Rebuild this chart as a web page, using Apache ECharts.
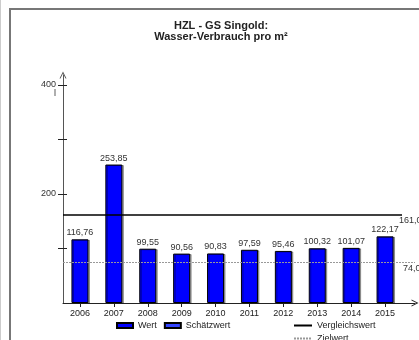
<!DOCTYPE html>
<html><head><meta charset="utf-8">
<script src="https://cdn.jsdelivr.net/npm/echarts@6/dist/echarts.min.js"></script>
<style>html,body{margin:0;padding:0;background:#fff}#c{width:419px;height:340px}</style>
</head><body><div id="c"></div>
<script>
var years = ['2006','2007','2008','2009','2010','2011','2012','2013','2014','2015'];
var wert = [116.76, 253.85, 99.55, 90.56, 90.83, 97.59, 95.46, 100.32, 101.07, 122.17];
var schaetzwert = [];
var vergleichswert = 161.0;
var zielwert = 74.0;
var yTicks = [100, 200, 300, 400];
var yLabels = [200, 400];
var yUnit = 'l';

var FONT = 'Liberation Sans, Arial, sans-serif';
function fmt(v){ return v.toFixed(2).replace('.', ','); }
var chev = 'path://M0,10L5,0L10,10L8.6,10L5,2.8L1.4,10Z';

var chart = echarts.init(document.getElementById('c'), null, {renderer:'canvas'});
var legendText = {fontFamily:FONT, fontSize:9, color:'#222'};
chart.setOption({
  animation: false,
  backgroundColor: '#fff',
  title: {
    text: 'HZL - GS Singold:\nWasser-Verbrauch pro m²',
    left: 216, top: 15, textAlign: 'center',
    textStyle: {fontFamily: FONT, fontSize: 11, fontWeight: 'bold', color: '#222', lineHeight: 11}
  },
  graphic: [
    {type:'line', shape:{x1:0.5,y1:0,x2:0.5,y2:340}, style:{stroke:'#ccc', lineWidth:1}},
    {type:'line', shape:{x1:10,y1:8,x2:10,y2:340}, style:{stroke:'#777', lineWidth:2}},
    {type:'line', shape:{x1:9,y1:9,x2:419,y2:9}, style:{stroke:'#777', lineWidth:2}},
    {type:'text', x:56, y:94, style:{text:yUnit, font:'9px Liberation Sans, Arial, sans-serif', fill:'#333', textAlign:'right', textVerticalAlign:'middle'}}
  ],
  legend: [
    {data:[{name:'Wert', icon:'rect'},{name:'Schätzwert', icon:'rect'}], left:116, top:321, padding:0,
     itemWidth:16, itemHeight:5, itemGap:7, textStyle:legendText},
    {data:['Vergleichswert'], left:293, top:321, padding:0, itemWidth:18, itemHeight:8,
     itemStyle:{opacity:0}, textStyle:legendText},
    {data:['Zielwert'], left:293, top:334, padding:0, itemWidth:18, itemHeight:8,
     itemStyle:{opacity:0}, textStyle:legendText}
  ],
  grid: [
    {left:63, right:17, top:75, bottom:37},
    {left:63, right:4, top:75, bottom:37}
  ],
  xAxis: [
    {type:'category', gridIndex:0, data: years,
     axisLine:{show:false},
     axisTick:{show:true, alignWithLabel:true, length:4, lineStyle:{color:'#222'}},
     axisLabel:{fontFamily:FONT, fontSize:9, color:'#222', margin:6}},
    {type:'value', gridIndex:1, min:0, max:1,
     axisLine:{show:true, symbol:['none', chev], symbolSize:[7,8], lineStyle:{color:'#222', width:1}},
     axisTick:{show:false}, axisLabel:{show:false}, splitLine:{show:false}}
  ],
  yAxis: [
    {type:'value', gridIndex:0, min:0, max:418,
     axisLine:{show:true, symbol:['none', chev], symbolSize:[7,8], lineStyle:{color:'#555', width:1}},
     axisTick:{show:true, length:5, customValues: yTicks, lineStyle:{color:'#222'}},
     axisLabel:{fontFamily:FONT, fontSize:9, color:'#333', margin:7, customValues: yLabels},
     splitLine:{show:false}},
    {type:'value', gridIndex:1, min:0, max:418,
     axisLine:{show:false},
     axisTick:{show:true, inside:true, length:4, customValues: yTicks, lineStyle:{color:'#222'}},
     axisLabel:{show:false}, splitLine:{show:false}}
  ],
  series: [
    {name:'Wert', type:'bar', xAxisIndex:0, yAxisIndex:0, data: wert, barWidth:17, barGap:'-100%',
     itemStyle:{color:'#0000ff', borderColor:'#000', borderWidth:1,
       shadowColor:'rgba(0,0,0,0.35)', shadowOffsetX:1.5, shadowOffsetY:0.5, shadowBlur:0},
     label:{show:true, position:'top', distance:2, formatter:function(p){return fmt(p.value);},
       fontFamily:FONT, fontSize:9, color:'#333'}},
    {name:'Schätzwert', type:'bar', xAxisIndex:0, yAxisIndex:0, data: schaetzwert, barWidth:17,
     itemStyle:{borderColor:'#000', borderWidth:1,
       color:{type:'linear', x:0, y:0, x2:0, y2:1, colorStops:[
         {offset:0, color:'#fff'},{offset:0.34, color:'#fff'},{offset:0.35, color:'#3344ff'},
         {offset:0.65, color:'#3344ff'},{offset:0.66, color:'#fff'},{offset:1, color:'#fff'}]}}},
    {name:'Vergleichswert', type:'line', xAxisIndex:0, yAxisIndex:0, data: [], symbol:'none',
     lineStyle:{color:'#000', width:1.5},
     itemStyle:{color:'#000'},
     markLine:{silent:true, symbol:['none','none'],
       lineStyle:{color:'#000', width:1.5, type:'solid'},
       label:{show:true, position:'end', distance:-3, offset:[0,5], formatter:function(){return fmt(vergleichswert);},
         fontFamily:FONT, fontSize:9, color:'#333'},
       data:[{yAxis: vergleichswert}]}},
    {name:'Zielwert', type:'line', xAxisIndex:1, yAxisIndex:1, data: [], symbol:'none',
     lineStyle:{color:'#999', width:1, type:[2,1]},
     itemStyle:{color:'#999'},
     markLine:{silent:true, symbol:['none','none'],
       lineStyle:{color:'#999', width:1, type:[2,1]},
       label:{show:true, position:'end', distance:-12, offset:[0,6], formatter:function(){return fmt(zielwert);},
         fontFamily:FONT, fontSize:9, color:'#333'},
       data:[{yAxis: zielwert}]}}
  ]
});
</script></body></html>
